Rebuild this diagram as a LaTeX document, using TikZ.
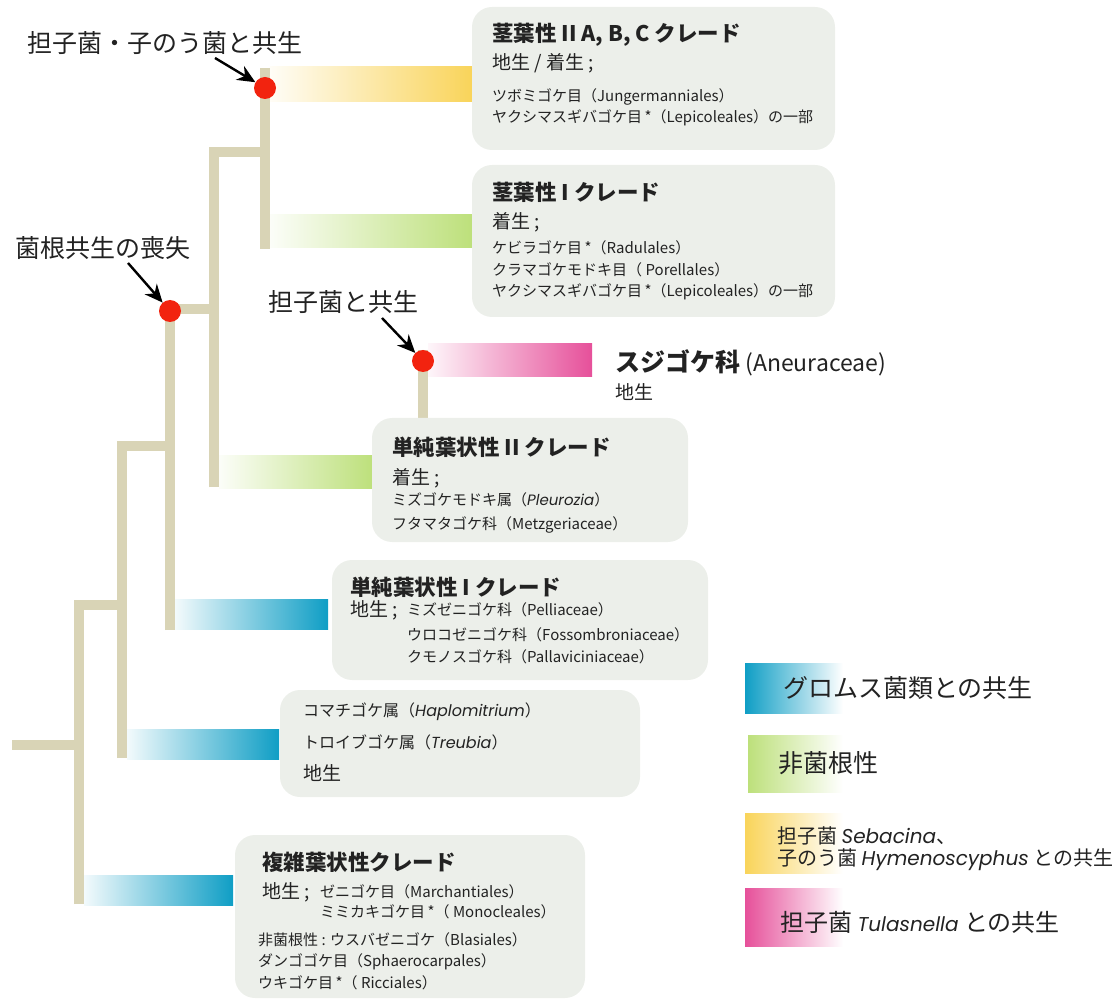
\documentclass[tikz,border=0pt]{standalone}
\usepackage{fontspec}
\setmainfont{Noto Sans CJK JP}
\newfontfamily\gothfam{Poppins}
\usetikzlibrary{arrows.meta}
\definecolor{tanline}{HTML}{D9D4B6}
\definecolor{boxbg}{HTML}{ECEFEA}
\definecolor{cyel}{HTML}{F9D45A}
\definecolor{cgrn}{HTML}{BDE07B}
\definecolor{cblu}{HTML}{0F9EC5}
\definecolor{cpnk}{HTML}{E6509A}
\definecolor{dotred}{HTML}{F2230F}
\definecolor{txt}{HTML}{222222}
\newcommand{\gi}[1]{{\gothfam\itshape #1}}
\tikzset{
  branch/.style={draw=tanline, line width=10pt, line join=miter},
  clade/.style={fill=boxbg, rounded corners=20pt},
  ttl/.style={anchor=west, inner sep=0, text=txt, font=\bfseries\fontsize{21.5}{25}\selectfont},
  subt/.style={anchor=west, inner sep=0, text=txt, font=\fontsize{19}{22}\selectfont},
  smalltxt/.style={anchor=west, inner sep=0, text=txt, font=\fontsize{15}{17}\selectfont},
  midtxt/.style={anchor=west, inner sep=0, text=txt, font=\fontsize{16}{19}\selectfont},
  lab/.style={anchor=west, inner sep=0, text=txt, font=\fontsize{25}{28}\selectfont},
  reddot/.style={circle, fill=dotred, minimum size=22pt, inner sep=0},
  pointer/.style={-{Stealth[length=18pt,width=16pt]}, line width=2.4pt, black},
  barR/.style={left color=#1!5, right color=#1},
  barL/.style={left color=#1, right color=white}
}
\begin{document}
\begin{tikzpicture}[x=1pt,y=-1pt]
\useasboundingbox (0,0) rectangle (1120,1000);
% tree
\draw[branch] (12,745) -- (84,745);
\draw[branch] (79,904) -- (79,605) -- (122,605);
\draw[branch] (122,758) -- (122,446) -- (170,446);
\draw[branch] (170,630) -- (170,309) -- (214,309);
\draw[branch] (214,487) -- (214,152) -- (265,152);
\draw[branch] (265,68) -- (265,249);
\draw[branch] (423,350) -- (423,470);
% bars
\shade[barR=cyel] (270,67) rectangle (472,102);
\shade[barR=cgrn] (270,215) rectangle (472,248);
\shade[barR=cpnk] (428,344) rectangle (592,377);
\shade[barR=cgrn] (219,455) rectangle (373,488);
\shade[barR=cblu] (175,599) rectangle (328,629);
\shade[barR=cblu] (127,729) rectangle (279,759);
\shade[barR=cblu] (84,875) rectangle (233,905);
% boxes
\fill[clade] (472,7) rectangle (835,150);
\fill[clade] (472,165) rectangle (835,317);
\fill[clade] (372,418) rectangle (688,542);
\fill[clade] (332,560) rectangle (708,680);
\fill[clade] (280,690) rectangle (640,797);
\fill[clade] (235,835) rectangle (585,998);
% box 1
\node[ttl] (b1t) at (492,35) {茎葉性 II A, B, C クレード};
\node[subt] (b1s) at (492,63) {地生 / 着生 ;};
\node[smalltxt] (b1a) at (492,97) {ツボミゴケ目（Jungermanniales）};
\node[smalltxt] (b1b) at (492,118) {ヤクシマスギバゴケ目\,*（Lepicoleales）の一部};
% box 2
\node[ttl] (b2t) at (492,192) {茎葉性 I クレード};
\node[subt] (b2s) at (492,222) {着生 ;};
\node[smalltxt] (b2a) at (492,248) {ケビラゴケ目\,*（Radulales）};
\node[smalltxt] (b2b) at (492,270) {クラマゴケモドキ目（ Porellales）};
\node[smalltxt] (b2c) at (492,292) {ヤクシマスギバゴケ目\,*（Lepicoleales）の一部};
% Aneuraceae
\node[anchor=west, inner sep=0, text=txt] (an) at (615,363) {\bfseries\fontsize{25}{28}\selectfont スジゴケ科\mdseries\fontsize{23}{26}\selectfont\ (Aneuraceae)};
\node[subt] (ans) at (615,392) {地生};
% box 3
\node[ttl] (b3t) at (392,447) {単純葉状性 II クレード};
\node[subt] (b3s) at (392,478) {着生 ;};
\node[smalltxt] (b3a) at (392,500) {ミズゴケモドキ属（\gi{Pleurozia}）};
\node[smalltxt] (b3b) at (392,525) {フタマタゴケ科（Metzgeriaceae）};
% box 4
\node[ttl] (b4t) at (350,587) {単純葉状性 I クレード};
\node[subt] (b4s) at (350,610) {地生 ;};
\node[smalltxt] (b4a) at (407,610) {ミズゼニゴケ科（Pelliaceae）};
\node[smalltxt] (b4b) at (407,635) {ウロコゼニゴケ科（Fossombroniaceae）};
\node[smalltxt] (b4c) at (407,657) {クモノスゴケ科（Pallaviciniaceae）};
% box 5
\node[midtxt] (b5a) at (303,712) {コマチゴケ属（\gi{Haplomitrium}）};
\node[midtxt] (b5b) at (303,742) {トロイブゴケ属（\gi{Treubia}）};
\node[subt] (b5c) at (303,773) {地生};
% box 6
\node[ttl] (b6t) at (262,862) {複雑葉状性クレード};
\node[subt] (b6s) at (262,892) {地生 ;};
\node[smalltxt] (b6a) at (320,892) {ゼニゴケ目（Marchantiales）};
\node[smalltxt] (b6b) at (320,912) {ミミカキゴケ目\,*（ Monocleales）};
\node[smalltxt] (b6c) at (258,940) {非菌根性 : ウスバゼニゴケ（Blasiales）};
\node[smalltxt] (b6d) at (258,962) {ダンゴゴケ目（Sphaerocarpales）};
\node[smalltxt] (b6e) at (258,983) {ウキゴケ目\,*（ Ricciales）};
% dots and labels
\node[reddot] (d1) at (265,88) {};
\node[reddot] (d2) at (170,311) {};
\node[reddot] (d3) at (423,361) {};
\node[lab] (l1) at (27,43) {担子菌・子のう菌と共生};
\node[lab] (l2) at (15,248) {菌根共生の喪失};
\node[lab] (l3) at (268,302) {担子菌と共生};
\coordinate (s1) at (215,58);
\coordinate (s2) at (128,263);
\coordinate (s3) at (382,318);
\draw[pointer] (s1) -- (d1);
\draw[pointer] (s2) -- (d2);
\draw[pointer] (s3) -- (d3);
% legend
\shade[barL=cblu] (745,663) rectangle (843,713);
\shade[barL=cgrn] (748,735) rectangle (843,792);
\shade[barL=cyel] (745,813) rectangle (843,873);
\shade[barL=cpnk] (745,888) rectangle (843,946);
\node[lab] (g1) at (783,688) {グロムス菌類との共生};
\node[lab] (g2) at (778,763) {非菌根性};
\node[anchor=west, inner sep=0, text=txt, align=left, font=\fontsize{20}{22}\selectfont] (g3) at (777,849) {担子菌 \gi{Sebacina}、\\子のう菌 \gi{Hymenoscyphus} との共生};
\node[anchor=west, inner sep=0, text=txt, font=\fontsize{24}{28}\selectfont] (g4) at (780,922) {担子菌 {\fontsize{20}{24}\selectfont\gi{Tulasnella}} との共生};
\end{tikzpicture}
\end{document}
